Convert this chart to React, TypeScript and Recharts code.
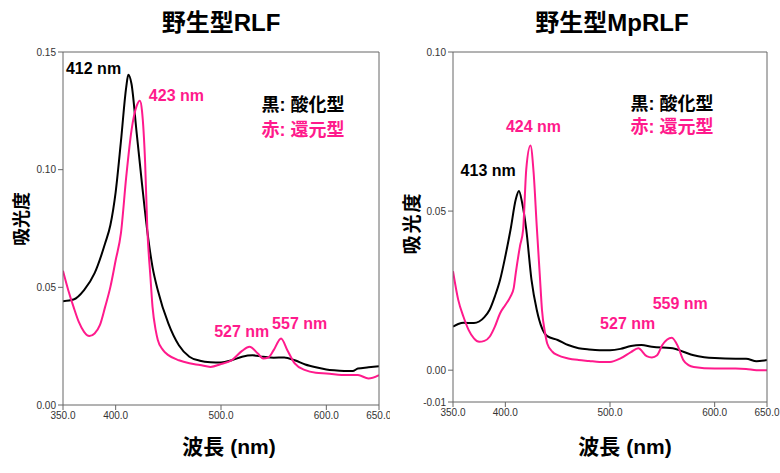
import { LineChart, Line, XAxis, YAxis, ReferenceDot } from "recharts";

// wild type RLF
const wtOxNm = [350, 360, 370, 380, 390, 395, 400, 405, 410, 412, 415, 420, 425, 430, 435, 440, 450, 460, 470, 480, 490, 500, 510, 520, 530, 540, 550, 560, 570, 580, 590, 600, 610, 620, 625, 630, 640, 650];
const wtOxAbs = [0.0441, 0.0448, 0.0488, 0.056, 0.0687, 0.0765, 0.0905, 0.112, 0.135, 0.1403, 0.1365, 0.1153, 0.094, 0.074, 0.0586, 0.0488, 0.0347, 0.0254, 0.0205, 0.0188, 0.0182, 0.0181, 0.019, 0.0205, 0.0211, 0.0205, 0.0201, 0.0202, 0.019, 0.0172, 0.016, 0.0151, 0.0147, 0.0144, 0.0144, 0.0155, 0.016, 0.0165];
const wtRedNm = [350, 355, 360, 365, 370, 375, 380, 385, 390, 395, 400, 405, 410, 415, 420, 423, 425, 428, 430, 433, 435, 438, 440, 445, 450, 460, 470, 480, 490, 500, 510, 520, 527, 535, 540, 545, 550, 557, 563, 570, 580, 590, 600, 620, 630, 640, 650];
const wtRedAbs = [0.057, 0.0488, 0.0417, 0.0353, 0.0311, 0.0293, 0.0304, 0.0339, 0.0417, 0.0502, 0.0615, 0.073, 0.0968, 0.1166, 0.1272, 0.1293, 0.125, 0.1026, 0.0755, 0.0544, 0.0417, 0.0318, 0.0276, 0.0233, 0.0212, 0.019, 0.0177, 0.017, 0.0162, 0.0174, 0.019, 0.023, 0.0247, 0.0219, 0.0198, 0.0202, 0.0233, 0.0283, 0.0233, 0.0177, 0.0148, 0.0137, 0.0134, 0.0127, 0.0127, 0.0113, 0.0127];

// wild type MpRLF
const mpOxNm = [350, 355, 360, 370, 375, 380, 385, 390, 395, 400, 405, 410, 413, 416, 420, 425, 430, 435, 440, 450, 460, 470, 480, 490, 500, 510, 520, 530, 540, 550, 560, 570, 580, 590, 600, 620, 630, 640, 650];
const mpOxAbs = [0.0137, 0.0145, 0.0149, 0.0148, 0.0153, 0.0167, 0.019, 0.0232, 0.0284, 0.0358, 0.0442, 0.0537, 0.0563, 0.0527, 0.0442, 0.0284, 0.019, 0.0132, 0.0107, 0.0095, 0.0079, 0.0069, 0.0065, 0.0063, 0.0063, 0.0067, 0.0076, 0.0079, 0.0074, 0.0071, 0.0069, 0.0058, 0.0047, 0.0041, 0.0038, 0.0036, 0.0036, 0.0028, 0.0032];
const mpRedNm = [350, 355, 360, 365, 370, 375, 380, 385, 390, 395, 400, 405, 408, 410, 414, 417, 420, 424, 427, 430, 433, 435, 438, 440, 445, 450, 460, 470, 480, 490, 500, 510, 520, 527, 535, 540, 545, 550, 559, 565, 570, 575, 580, 600, 620, 630, 640, 650];
const mpRedAbs = [0.0311, 0.0221, 0.0168, 0.0126, 0.01, 0.0089, 0.0092, 0.0105, 0.0137, 0.0179, 0.0205, 0.0232, 0.0258, 0.0306, 0.039, 0.0442, 0.0632, 0.0706, 0.0622, 0.0453, 0.0295, 0.019, 0.0116, 0.0084, 0.0058, 0.0047, 0.0037, 0.0032, 0.0029, 0.0026, 0.0026, 0.0037, 0.0057, 0.0069, 0.0044, 0.004, 0.0047, 0.0079, 0.0102, 0.0074, 0.0032, 0.0016, 0.001, 0.0005, 0.0005, 0.0004, 0, 0];

const xTicks = [350, 400, 500, 600, 650];
const xInnerTicks = [400, 500, 600];
const wtYTicks = [0, 0.05, 0.1, 0.15];
const mpYTicks = [-0.01, 0, 0.05, 0.1];

const PINK = "#ff1a8c";
const AXIS = "#666";
const FONT = "'Liberation Sans', 'Noto Sans CJK JP', sans-serif";

type Note = { x: number; y: number; text: string; color: string; anchor?: "start" | "middle"; size?: number };

const wtNotes: Note[] = [
  { x: 379, y: 0.1432, text: "412 nm", color: "#000" },
  { x: 457.7, y: 0.1318, text: "423 nm", color: PINK },
  { x: 519.7, y: 0.0311, text: "527 nm", color: PINK },
  { x: 574.7, y: 0.0347, text: "557 nm", color: PINK },
  { x: 538.4, y: 0.1275, text: "黒: 酸化型", color: "#000", anchor: "start", size: 18 },
  { x: 538.4, y: 0.1172, text: "赤: 還元型", color: PINK, anchor: "start", size: 18 },
];

const mpNotes: Note[] = [
  { x: 383.6, y: 0.0629, text: "413 nm", color: "#000" },
  { x: 426.9, y: 0.0766, text: "424 nm", color: PINK },
  { x: 516.9, y: 0.0147, text: "527 nm", color: PINK },
  { x: 567.1, y: 0.0211, text: "559 nm", color: PINK },
  { x: 519.5, y: 0.0837, text: "黒: 酸化型", color: "#000", anchor: "start", size: 18 },
  { x: 519.5, y: 0.0765, text: "赤: 還元型", color: PINK, anchor: "start", size: 18 },
];

const toPoints = (nm: number[], abs: number[]) => nm.map((x, i) => ({ x, y: abs[i] }));

const emptyTick = () => <g />;

function Panel(props: {
  left: number;
  title: string;
  titleX: number;
  ox: { x: number; y: number }[];
  red: { x: number; y: number }[];
  yDomain: [number, number];
  yTicks: number[];
  notes: Note[];
  margin: { top: number; right: number; bottom: number; left: number };
  yLabelX: number;
  yLabelY: number;
  yLabelSize: number;
  xLabelX: number;
}) {
  const { left, title, ox, red, yDomain, yTicks, notes, margin } = props;
  const tickStyle = { fontSize: 10, fill: "#333", fontFamily: FONT };
  return (
    <div style={{ position: "absolute", left, top: 0, width: 390, height: 473 }}>
      <div style={{ position: "absolute", left: props.titleX - 100, top: 8, width: 200, textAlign: "center", fontFamily: FONT, fontWeight: 700, fontSize: 24, lineHeight: "30px", color: "#000" }}>
        {title}
      </div>
      <div style={{ position: "absolute", left: props.yLabelX - 50, top: props.yLabelY - 12, width: 100, height: 24, textAlign: "center", transform: "rotate(-90deg)", fontFamily: FONT, fontWeight: 700, fontSize: props.yLabelSize, letterSpacing: props.yLabelSize > 18 ? 2 : 0, lineHeight: "24px" }}>
        吸光度
      </div>
      <div style={{ position: "absolute", left: props.xLabelX - 80, top: 433, width: 160, textAlign: "center", fontFamily: FONT, fontWeight: 700, fontSize: 21, lineHeight: "28px" }}>
        波長 (nm)
      </div>
      <LineChart width={390} height={473} margin={margin}>
        <XAxis xAxisId="b" type="number" dataKey="x" domain={[350, 650]} ticks={xTicks} tickFormatter={(v: number) => v.toFixed(1)} tick={tickStyle} stroke={AXIS} tickSize={5} height={30} allowDataOverflow />
        <XAxis xAxisId="t" type="number" dataKey="x" orientation="top" mirror domain={[350, 650]} ticks={xInnerTicks} tick={emptyTick} stroke={AXIS} tickSize={5} />
        <YAxis yAxisId="l" type="number" domain={yDomain} ticks={yTicks} tickFormatter={(v: number) => v.toFixed(2)} tick={tickStyle} stroke={AXIS} tickSize={5} width={50} allowDataOverflow />
        <YAxis yAxisId="r" type="number" orientation="right" mirror domain={yDomain} ticks={yTicks} tick={emptyTick} stroke={AXIS} tickSize={5} />
        <Line xAxisId="b" yAxisId="l" data={ox} dataKey="y" type="monotone" stroke="#000" strokeWidth={2} dot={false} isAnimationActive={false} />
        <Line xAxisId="b" yAxisId="l" data={red} dataKey="y" type="monotone" stroke={PINK} strokeWidth={2} dot={false} isAnimationActive={false} />
        {notes.map((n) => (
          <ReferenceDot
            key={n.text + n.x}
            xAxisId="b"
            yAxisId="l"
            x={n.x}
            y={n.y}
            r={0}
            stroke="none"
            fill="none"
            label={{
              value: n.text,
              position: n.anchor === "start" ? "right" : "center",
              offset: 0,
              fill: n.color,
              fontSize: n.size ?? 16,
              fontWeight: 700,
              fontFamily: FONT,
            }}
          />
        ))}
      </LineChart>
    </div>
  );
}

export default function App() {
  return (
    <div style={{ position: "absolute", left: 0, top: 0, width: 780, height: 473, background: "#fff" }}>
      <Panel
        left={0}
        title="野生型RLF"
        titleX={221}
        ox={toPoints(wtOxNm, wtOxAbs)}
        red={toPoints(wtRedNm, wtRedAbs)}
        yDomain={[0, 0.15]}
        yTicks={wtYTicks}
        notes={wtNotes}
        margin={{ top: 52, right: 11, bottom: 38, left: 13 }}
        yLabelX={22}
        yLabelY={219}
        yLabelSize={18}
        xLabelX={229}
      />
      <Panel
        left={390}
        title="野生型MpRLF"
        titleX={222}
        ox={toPoints(mpOxNm, mpOxAbs)}
        red={toPoints(mpRedNm, mpRedAbs)}
        yDomain={[-0.01, 0.1]}
        yTicks={mpYTicks}
        notes={mpNotes}
        margin={{ top: 52, right: 13, bottom: 41, left: 13 }}
        yLabelX={23}
        yLabelY={223}
        yLabelSize={19}
        xLabelX={235}
      />
    </div>
  );
}
